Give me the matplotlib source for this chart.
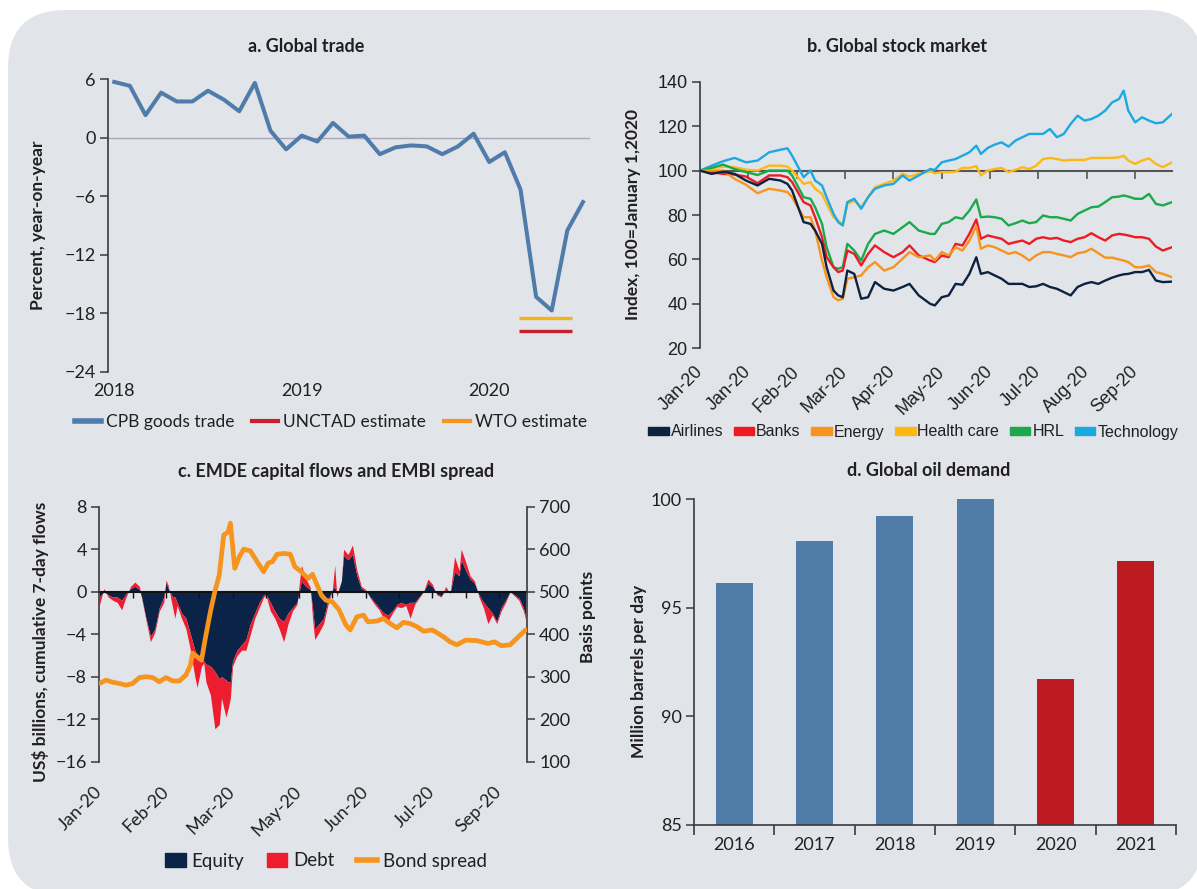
import numpy as np
import matplotlib
matplotlib.use("Agg")
import matplotlib.pyplot as plt
import matplotlib.transforms as mtransforms
from matplotlib.patches import FancyBboxPatch, Patch
from matplotlib.lines import Line2D

# ---------------- data ----------------
# a. Global trade (monthly, Jan 2018 - Jul 2020)
cpb_trade = [5.7, 5.3, 2.3, 4.6, 3.7, 3.7, 4.8, 3.9, 2.7, 5.6,
             0.7, -1.2, 0.2, -0.4, 1.5, 0.1, 0.2, -1.7, -1.0, -0.8,
             -0.9, -1.7, -0.9, 0.4, -2.5, -1.5, -5.3, -16.3, -17.7, -9.5, -6.6]
trade_year_ticks = [0, 12, 24]
trade_year_labels = ["2018", "2019", "2020"]
estimate_span = [25.9, 29.3]
wto_estimate = -18.5
unctad_estimate = -19.8

# b. Global stock market (trading days since Jan 1, 2020)
stock_days = [0, 5, 10, 15, 20, 25, 30, 35, 38, 40, 45, 48, 50, 53, 55, 58, 60, 62, 64, 67,
              70, 73, 76, 80, 84, 88, 91, 95, 100, 102, 105, 108, 111, 114, 117, 120, 122, 125, 128, 131,
              134, 137, 140, 143, 146, 149, 152, 155, 158, 161, 164, 167, 170, 173, 176, 179, 182, 184, 186, 189,
              192, 195, 198, 201, 205]
technology = [100, 102.2, 104.2, 105.7, 103.7, 104.5, 108.2, 109.4, 110, 106.7,
              97, 100, 95.5, 93.3, 88, 80.5, 76.8, 75.3, 85.8, 87.3,
              82.8, 88, 91.8, 93.3, 94, 97.8, 95.5, 97.8, 100.7, 100.3,
              103.7, 104.5, 105.2, 106.7, 108.2, 111.2, 107.5, 110.2, 111.7, 112.7,
              110.8, 113.5, 115, 116.5, 116.5, 116.5, 118.7, 115, 116.5, 121,
              124.7, 122.5, 123.2, 124.7, 127, 130.7, 132.2, 136, 127, 121.7,
              124, 122.5, 121.3, 121.7, 125.5]
health_care = [100, 101, 101.8, 101.5, 100.4, 100, 102.2, 102.2, 101.8, 100,
               94, 94.8, 91.8, 89.5, 85, 79, 77.5, 75.3, 85, 86.5,
               83.5, 88, 92.5, 94, 95.5, 98.5, 97.3, 98.5, 99.7, 98.8,
               99.3, 99.3, 99.5, 101.2, 101.2, 102, 97.8, 100, 100.7, 101.2,
               99.3, 100.3, 101.5, 100.7, 102.2, 105.2, 105.7, 105.2, 104.5, 104.8,
               104.8, 104.8, 105.7, 105.7, 105.7, 105.7, 106, 106.7, 104.5, 103,
               104.5, 105.5, 103, 101.5, 103.7]
hrl = [100, 101.2, 102.7, 100.7, 99.3, 98, 100, 100, 100, 97.8,
       88, 87.3, 83.5, 76, 65.5, 56.5, 55.8, 56.5, 67, 64,
       59.5, 67, 71.5, 73, 71.5, 74.5, 76.8, 73, 71.5, 71.5,
       76, 76.8, 79, 78.3, 82, 87, 79, 79.3, 79, 78.3,
       75.3, 76.3, 77.5, 76.3, 76.8, 79.8, 79, 79, 78.3, 77.5,
       80.5, 82, 83.5, 83.8, 85.8, 88, 88.3, 88.8, 88.3, 87.3,
       87.3, 89.5, 85, 84.3, 85.8]
banks = [100, 99.3, 98.5, 98.2, 97.3, 94.3, 97.8, 97.8, 97, 94.8,
         85.8, 84.3, 79, 70, 61, 56.5, 54.3, 55, 64, 62.5,
         57.3, 62.5, 66.3, 63.3, 61, 63.3, 66.3, 61.8, 59.5, 58.8,
         61.8, 61, 67, 66.3, 71.5, 78, 69.3, 70.8, 70, 69.3,
         67, 67.8, 68.5, 67, 69.3, 70, 69.3, 69.7, 68.5, 67.8,
         69.3, 70, 71.8, 70, 68.5, 70.8, 71.5, 71.2, 70.8, 70,
         70, 69.3, 65.8, 64, 65.5]
energy = [100, 100, 100, 96.3, 93.6, 89.8, 91.8, 91, 90.3, 88,
          79, 79, 73, 59.5, 52, 43, 41.6, 42.3, 51.3, 52,
          52.8, 56.5, 58.8, 55, 56.5, 60.3, 63.3, 61, 61.8, 59.5,
          63.3, 61.8, 65.5, 64, 68.5, 75, 64.8, 66.3, 65.5, 64,
          62.5, 63.3, 61.8, 59.5, 61.8, 63.3, 63.3, 62.5, 61.8, 61,
          62.8, 63.3, 64.8, 62.8, 60.8, 60.8, 60, 59.5, 58.8, 56.5,
          56.5, 57.3, 54.3, 53.5, 52]
airlines = [100, 98.5, 99.5, 98.5, 95.5, 93.3, 96.3, 95.5, 94, 91,
            76.8, 76, 73, 67, 56.5, 46, 43.8, 43, 55, 53.5,
            42.3, 43, 49.8, 46.8, 46, 47.6, 49, 43.8, 40, 39.3,
            43, 43.8, 49, 48.6, 53.5, 61, 53.5, 54.3, 52.8, 51.3,
            49, 49, 49, 47.6, 47.9, 49, 47.6, 46.8, 45.3, 43.8,
            47.6, 49, 49.8, 49, 50.5, 51.8, 52.8, 53.3, 53.5, 54.3,
            54.3, 55.3, 50.5, 49.8, 50]
stock_tick_days = [0, 21, 42, 63, 84, 105, 126, 147, 168, 189]
stock_tick_labels = ["Jan-20", "Jan-20", "Feb-20", "Mar-20", "Apr-20", "May-20",
                     "Jun-20", "Jul-20", "Aug-20", "Sep-20"]

# c. EMDE capital flows (business days since Jan 1, 2020)
flow_days = [0, 2, 4, 6, 8, 10, 12, 14, 16, 18, 19, 21, 23, 25, 27, 29, 30, 31, 33, 34,
             35, 37, 39, 41, 43, 44, 46, 47, 48, 50, 52, 54, 55, 57, 58, 59, 60, 62, 64, 66,
             68, 70, 72, 74, 75, 77, 79, 81, 83, 85, 87, 89, 91, 93, 95, 96, 97, 99, 101, 103,
             105, 106, 107, 109, 110, 112, 114, 116, 118, 120, 122, 124, 126, 128, 130, 132, 134, 136, 138, 140,
             142, 144, 146, 148, 150, 152, 154, 156, 158, 160, 162, 163, 165, 167, 169, 171, 173, 175, 177, 179,
             181, 183, 185, 187, 189, 191, 192]
equity = [-0.5, 0, -0.3, -0.5, -0.5, -0.8, -0.2, 0.3, 0.5, 0.2,
          -0.5, -2.5, -4.2, -3.5, -1.5, -0.5, 0.9, 0.3, -0.5, -0.5,
          -1.0, -2.0, -2.5, -4.0, -5.5, -6.0, -6.5, -6.5, -6.8, -7.0,
          -7.5, -8.2, -8.0, -8.3, -8.5, -8.5, -6.5, -5.5, -5.0, -4.5,
          -3.0, -2.0, -1.0, -0.3, -0.2, -1.0, -1.8, -2.5, -2.8, -2.0,
          -1.5, -1.0, 1.0, 0.5, 0.2, -1.5, -3.5, -3.0, -2.5, -0.8,
          0.2, 0.5, -0.3, 1.0, 3.4, 3.0, 3.5, 1.5, 0.3, 0.1,
          -0.5, -1.0, -1.5, -2.0, -2.2, -1.8, -1.2, -1.0, -1.2, -1.0,
          -1.0, -0.5, 0.0, 0.8, 0.5, -0.2, -0.4, 0.2, -0.1, 1.9,
          1.5, 3.0, 2.0, 1.2, 0.8, -0.3, -1.0, -1.5, -2.0, -2.8,
          -1.5, -0.8, 0.0, -0.3, -0.6, -1.5, -2.3]
debt = [-0.75, 0.3, -0.2, -0.3, -0.5, -0.9, -0.3, 0.2, 0.4, 0.3,
        -0.1, -0.2, -0.5, -0.3, -0.3, -0.5, 0.2, 0.3, -1.0, -2.0,
        -0.3, -0.5, -1.0, -1.5, -2.5, -3.0, -0.5, -0.2, -1.7, -2.7,
        -5.4, -4.3, -2.0, -3.5, -2.5, -1.5, -0.5, -0.5, -0.5, -1.0,
        -1.0, -0.5, -0.5, -0.2, -0.1, -0.8, -0.7, -1.0, -1.9, -1.0,
        -0.3, -0.2, 1.5, 0.7, 0.2, -1.0, -1.0, -0.8, -0.5, -0.4,
        0.1, 2.0, -0.2, 0.0, 0.6, 0.5, 0.9, 0.5, 0.2, 0.1,
        -0.1, -0.2, -0.2, -0.5, -0.6, -0.2, -0.2, -0.5, -0.1, -1.5,
        -0.2, -0.1, 0.0, 0.4, 0.2, -0.1, -0.1, 0.3, -0.1, 1.4,
        0.5, 1.0, 0.8, 0.3, 0.2, -0.2, -0.5, -1.5, -0.2, -0.2,
        -0.3, -0.2, 0.0, -0.1, -0.2, -0.3, -0.3]
spread_days = [0, 3, 6, 9, 12, 15, 18, 21, 24, 27, 30, 33, 36, 39, 41, 42, 45, 46, 48, 50,
               52, 54, 56, 58, 59, 61, 63, 65, 68, 71, 74, 76, 78, 80, 83, 86, 88, 91, 94, 96,
               100, 102, 105, 108, 111, 113, 116, 119, 121, 125, 128, 131, 134, 137, 140, 143, 146, 150, 155, 158,
               161, 165, 170, 175, 178, 181, 185, 188, 192]
bond_spread = [284, 292, 287, 284, 280, 284, 298, 300, 298, 288,
               298, 290, 290, 304, 327, 355, 343, 339, 398, 453,
               500, 539, 633, 641, 661, 555, 582, 600, 596, 571,
               547, 567, 571, 588, 590, 588, 559, 547, 531, 541,
               492, 480, 476, 457, 422, 410, 441, 445, 429, 431,
               437, 425, 415, 428, 425, 418, 407, 410, 394, 382,
               375, 386, 385, 378, 382, 373, 375, 390, 410]
flow_minor_ticks = [15, 30, 45, 60, 75, 90, 105, 120, 135, 150, 165, 180]
flow_tick_days = [0, 30, 60, 90, 120, 150, 180]
flow_tick_labels = ["Jan-20", "Feb-20", "Mar-20", "May-20", "Jun-20", "Jul-20", "Sep-20"]

# d. Global oil demand
oil_years = ["2016", "2017", "2018", "2019", "2020", "2021"]
oil_demand = [96.13, 98.07, 99.22, 100.0, 91.72, 97.15]
oil_is_forecast = [False, False, False, False, True, True]

# ---------------- style ----------------
W, H, DPI = 1197, 889, 100
plt.rcParams['font.family'] = ['Lato', 'DejaVu Sans']
plt.rcParams['axes.unicode_minus'] = True
TXT = '#231f20'
SPINE = '#3a3a3a'
BG = '#e1e4e9'
ARIAL = ['Liberation Sans', 'DejaVu Sans']

fig = plt.figure(figsize=(W / DPI, H / DPI), dpi=DPI, facecolor='white')
bg = FancyBboxPatch((8, H - 896), 1195, 886,
                    boxstyle='round,pad=0,rounding_size=58',
                    transform=mtransforms.IdentityTransform(),
                    facecolor=BG, edgecolor='none', zorder=-10)
fig.add_artist(bg)


def rect(l, t, r, b):
    return [l / W, (H - b) / H, (r - l) / W, (b - t) / H]


def clean(ax, keep=('left',)):
    ax.set_facecolor('none')
    for s in ['left', 'right', 'top', 'bottom']:
        ax.spines[s].set_visible(s in keep)
        ax.spines[s].set_color(SPINE)
        ax.spines[s].set_linewidth(1.2)


def title(x, y, s):
    fig.text(x / W, 1 - y / H, s, ha='center', va='center', fontsize=13,
             fontweight='bold', color=TXT)


YL = dict(fontsize=12.5, fontweight='bold', color=TXT)

# ---------------- panel a ----------------
axa = fig.add_axes(rect(108, 79, 590, 372))
clean(axa)
xa = np.arange(len(cpb_trade))
axa.axhline(0, color='#aaa5ba', lw=1.0, zorder=1)
axa.plot(xa, cpb_trade, color='#4f7cab', lw=2.9, zorder=3)
axa.hlines(wto_estimate, estimate_span[0], estimate_span[1], color='#f2b418', lw=2.4, zorder=3)
axa.hlines(unctad_estimate, estimate_span[0], estimate_span[1], color='#c8202f', lw=2.4, zorder=3)
axa.set_xlim(-0.4, 30.45)
axa.set_ylim(-24, 6)
axa.set_yticks(np.arange(-24, 7, 6))
axa.set_xticks(trade_year_ticks, trade_year_labels)
axa.tick_params(axis='y', direction='out', length=6, width=1.1, color=SPINE,
                labelsize=13, labelcolor=TXT, pad=3)
axa.tick_params(axis='x', length=0, labelsize=13, labelcolor=TXT, pad=8)
axa.set_ylabel('Percent, year-on-year', **YL)
axa.yaxis.set_label_coords(-0.128, 0.5)
title(306, 47, 'a. Global trade')
fig.legend(handles=[Line2D([], [], color='#4f7cab', lw=4),
                    Line2D([], [], color='#c8202f', lw=3),
                    Line2D([], [], color='#f7941d', lw=3)],
           labels=['CPB goods trade', 'UNCTAD estimate', 'WTO estimate'],
           loc='center', bbox_to_anchor=(331 / W, 1 - 422 / H), ncol=3, frameon=False,
           fontsize=12.5, handlelength=1.5, handletextpad=0.3, columnspacing=1.0,
           labelcolor=TXT)

# ---------------- panel b ----------------
axb = fig.add_axes(rect(700, 81.7, 1172, 348.3))
clean(axb)
series_b = [(airlines, '#0c2340', 'Airlines'), (banks, '#ed1c24', 'Banks'),
            (energy, '#f7941d', 'Energy'), (health_care, '#fdb813', 'Health care'),
            (hrl, '#1aaa4b', 'HRL'), (technology, '#1ba9e1', 'Technology')]
for vals, col, lab in [series_b[3], series_b[5], series_b[4], series_b[1], series_b[2], series_b[0]]:
    axb.plot(stock_days, vals, color=col, lw=1.7, zorder=3)
axb.set_xlim(0, 205)
axb.set_ylim(20, 140)
axb.set_yticks(np.arange(20, 141, 20))
axb.set_xticks(stock_tick_days)
axb.set_xticklabels(stock_tick_labels, rotation=45, ha='right', va='center',
                    rotation_mode='anchor', family=ARIAL, fontsize=13, color=TXT)
axb.tick_params(axis='x', length=0, pad=15)
axb.tick_params(axis='y', direction='out', length=6, width=1.1, color=SPINE,
                labelsize=13, labelcolor=TXT, pad=3)
for t in axb.get_yticklabels():
    t.set_family(ARIAL)
secb = axb.secondary_xaxis(2 / 3)
secb.set_xticks(stock_tick_days[1:])
secb.tick_params(axis='x', direction='in', length=6, width=1.2, color='#555555',
                 labeltop=False, labelbottom=False)
secb.spines['top'].set_color('#555555')
secb.spines['top'].set_linewidth(1.5)
secb.spines['bottom'].set_visible(False)
axb.set_ylabel('Index, 100=January 1,2020', **YL)
axb.yaxis.set_label_coords(-0.124, 0.5)
title(897, 47, 'b. Global stock market')
fig.legend(handles=[Patch(color=c) for _, c, _ in series_b],
           labels=[l for _, _, l in series_b],
           loc='center', bbox_to_anchor=(913 / W, 1 - 432 / H), ncol=6, frameon=False,
           prop={'family': ARIAL, 'size': 11.5}, handlelength=1.3, handleheight=0.4,
           handletextpad=0.12, columnspacing=0.65, labelcolor=TXT)

# ---------------- panel c ----------------
axc = fig.add_axes(rect(99.4, 506.7, 526.7, 761.7))
clean(axc)
fd = np.array(flow_days)
eq = np.array(equity)
tot = eq + np.array(debt)
axc.fill_between(fd, 0, eq, color='#0b2346', lw=0, zorder=1)
axc.fill_between(fd, eq, tot, color='#ed1c2e', lw=0, zorder=1.1)
axc.set_xlim(0, 192.5)
axc.set_ylim(-16, 8)
axc.set_yticks(np.arange(-16, 9, 4))
axc.set_xticks(flow_tick_days)
axc.set_xticklabels(flow_tick_labels, rotation=45, ha='right', va='center',
                    rotation_mode='anchor', fontsize=13, color=TXT)
axc.tick_params(axis='x', length=0, pad=20)
axc.tick_params(axis='y', direction='out', length=6, width=1.1, color=SPINE,
                labelsize=13, labelcolor=TXT, pad=3)
secc = axc.secondary_xaxis(2 / 3)
secc.set_zorder(2)
secc.set_xticks(flow_minor_ticks)
secc.tick_params(axis='x', direction='in', length=4, width=1.0, color='#111111',
                 labeltop=False, labelbottom=False)
secc.spines['top'].set_color('#111111')
secc.spines['top'].set_linewidth(1.5)
secc.spines['bottom'].set_visible(False)
axc.set_ylabel('US$ billions, cumulative 7-day flows', **YL)
axc.yaxis.set_label_coords(-0.118, 0.47)

axc2 = axc.twinx()
clean(axc2, keep=('right',))
axc2.plot(spread_days, bond_spread, color='#f7941d', lw=3.4, solid_joinstyle='round',
          solid_capstyle='round', zorder=3)
axc2.set_ylim(100, 700)
axc2.set_yticks(np.arange(100, 701, 100))
axc2.tick_params(axis='y', direction='out', length=6, width=1.1, color=SPINE,
                 labelsize=13, labelcolor=TXT, pad=3)
axc2.set_ylabel('Basis points', **YL)
axc2.yaxis.set_label_coords(1.124, 0.566)
title(336, 472, 'c. EMDE capital flows and EMBI spread')
fig.legend(handles=[Patch(color='#0b2346'), Patch(color='#ed1c2e'),
                    Line2D([], [], color='#f7941d', lw=4)],
           labels=['Equity', 'Debt', 'Bond spread'],
           loc='center', bbox_to_anchor=(326 / W, 1 - 861 / H), ncol=3, frameon=False,
           fontsize=13.5, handlelength=1.1, handleheight=0.7, handletextpad=0.3,
           columnspacing=1.2, labelcolor=TXT)

# ---------------- panel d ----------------
axd = fig.add_axes(rect(694, 499, 1176, 824.7))
clean(axd, keep=('left', 'bottom'))
xd = np.arange(len(oil_years))
cols = ['#be1a21' if f else '#507ca9' for f in oil_is_forecast]
axd.bar(xd, oil_demand, width=0.46, color=cols, zorder=2)
axd.set_xlim(-0.5, len(oil_years) - 0.5)
axd.set_ylim(85, 100)
axd.set_yticks(np.arange(85, 101, 5))
axd.set_xticks(xd, oil_years)
axd.set_xticks(np.arange(-0.5, len(oil_years)), minor=True)
axd.tick_params(axis='x', which='major', length=0, labelsize=13, labelcolor=TXT, pad=9)
axd.tick_params(axis='x', which='minor', direction='out', length=7, width=1.2, color=SPINE)
axd.tick_params(axis='y', direction='out', length=6, width=1.1, color=SPINE,
                labelsize=13, labelcolor=TXT, pad=3)
axd.set_ylabel('Million barrels per day', **YL)
axd.yaxis.set_label_coords(-0.097, 0.472)
title(929, 470, 'd. Global oil demand')

fig.savefig('out.png', dpi=DPI, facecolor='white')
